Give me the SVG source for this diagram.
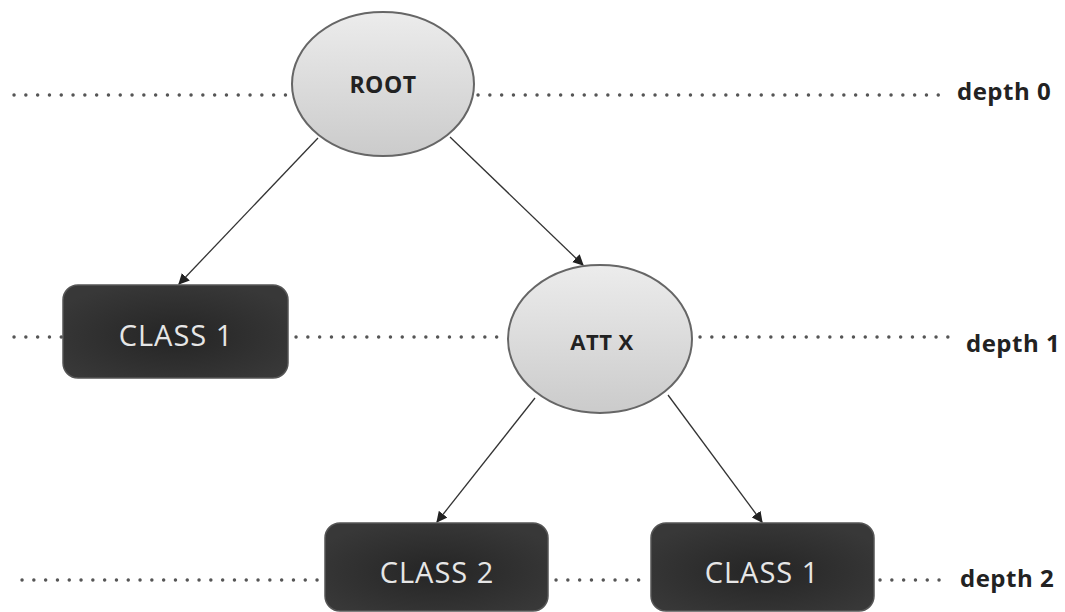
<svg xmlns="http://www.w3.org/2000/svg" width="1065" height="612" viewBox="0 0 1065 612">
<style>
.dot{stroke:#555;stroke-width:3.4;stroke-linecap:round;stroke-dasharray:0.1 11.7;fill:none}
.edge{stroke:#333;stroke-width:1.3;fill:none;marker-end:url(#arr)}
.ell{fill:url(#eg);stroke:#666;stroke-width:2}
.box{fill:url(#bg);stroke:#555;stroke-width:1.5}
.etxt{font-family:"Open Sans","Liberation Sans",sans-serif;font-weight:bold;fill:#222;text-anchor:middle}
.btxt{font-family:"Open Sans","Liberation Sans",sans-serif;fill:#e6e6e6;text-anchor:middle;font-size:29px;letter-spacing:1px}
.dtxt{font-family:"Open Sans","Liberation Sans",sans-serif;font-weight:bold;fill:#222;font-size:24px;letter-spacing:0.5px}
</style>
<defs>
<linearGradient id="eg" x1="0" y1="0" x2="0" y2="1">
<stop offset="0" stop-color="#ececec"/>
<stop offset="1" stop-color="#cbcbcb"/>
</linearGradient>
<radialGradient id="bg" cx="0.5" cy="0.55" r="0.6">
<stop offset="0" stop-color="#252525"/>
<stop offset="1" stop-color="#383838"/>
</radialGradient>
<marker id="arr" viewBox="0 0 10 10" refX="9" refY="5" markerWidth="11" markerHeight="11" markerUnits="userSpaceOnUse" orient="auto">
<path d="M0,0 L10,5 L0,10 z" fill="#222"/>
</marker>
</defs>
<g id="levels">
<line class="dot" x1="14" y1="95" x2="290" y2="95"/>
<line class="dot" x1="478" y1="95" x2="945" y2="95"/>
<line class="dot" x1="14" y1="337" x2="62" y2="337"/>
<line class="dot" x1="296" y1="337" x2="506" y2="337"/>
<line class="dot" x1="700" y1="337" x2="955" y2="337"/>
<line class="dot" x1="22" y1="580" x2="322" y2="580"/>
<line class="dot" x1="556" y1="580" x2="645" y2="580"/>
<line class="dot" x1="880" y1="580" x2="948" y2="580"/>
<text class="dtxt" x="957" y="100">depth 0</text>
<text class="dtxt" x="966" y="352">depth 1</text>
<text class="dtxt" x="960" y="587">depth 2</text>
</g>
<g id="connectors">
<line class="edge" x1="318" y1="138" x2="179" y2="284"/>
<line class="edge" x1="450" y1="137" x2="583" y2="265"/>
<line class="edge" x1="535" y1="398" x2="437" y2="522"/>
<line class="edge" x1="668" y1="395" x2="762" y2="522"/>
</g>
<g id="root">
<ellipse class="ell" cx="383" cy="84" rx="91" ry="72"/>
<text class="etxt" x="383" y="93" font-size="23" letter-spacing="0.5">ROOT</text>
</g>
<g id="class1a">
<rect class="box" x="63" y="285" width="225" height="93" rx="15"/>
<text class="btxt" x="176" y="346">CLASS 1</text>
</g>
<g id="attx">
<ellipse class="ell" cx="600" cy="339" rx="92" ry="74"/>
<text class="etxt" x="602" y="350" font-size="22" letter-spacing="0.5">ATT X</text>
</g>
<g id="class2">
<rect class="box" x="325" y="523" width="223" height="88" rx="15"/>
<text class="btxt" x="437" y="583">CLASS 2</text>
</g>
<g id="class1b">
<rect class="box" x="651" y="523" width="223" height="88" rx="15"/>
<text class="btxt" x="762" y="583">CLASS 1</text>
</g>
</svg>
